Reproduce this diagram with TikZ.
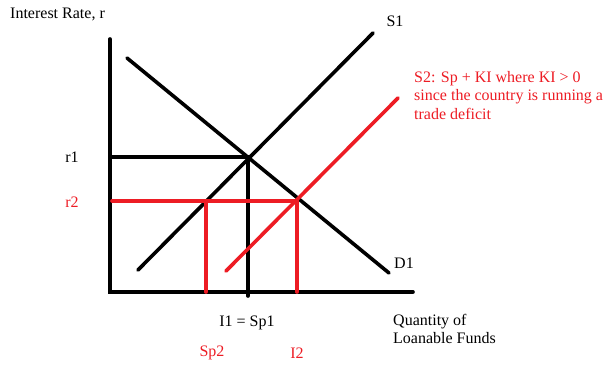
\documentclass[tikz,border=0pt]{standalone}
\usepackage{fontspec}
\setmainfont{Liberation Serif}
\usepackage{xcolor}
\usetikzlibrary{positioning}
\definecolor{paintred}{HTML}{ED1C24}

\begin{document}
\begin{tikzpicture}[
  x=1pt, y=-1pt,
  blk/.style={line width=3.6pt, line cap=round, black},
  rd/.style={line width=3.6pt, line cap=round, paintred},
  lbl/.style={font=\fontsize{16}{18.5}\selectfont, inner sep=0pt},
  rlbl/.style={lbl, text=paintred}
]
  \useasboundingbox (0,0) rectangle (608,366);
  % axes
  \coordinate (O)  at (110,292);
  \coordinate (Yt) at (110,39);
  \coordinate (Xr) at (413,292);
  % curves
  \coordinate (S1a) at (138,270);  \coordinate (S1b) at (373,33);
  \coordinate (D1a) at (127,58);   \coordinate (D1b) at (389,273);
  \coordinate (S2a) at (226,271);  \coordinate (S2b) at (398,98);
  % equilibria
  \coordinate (E1) at (248,157);   \coordinate (E2) at (297,201);
  \coordinate (R1) at (110,157);   \coordinate (R2) at (112,201);
  \coordinate (F2) at (206,201);
  \coordinate (I1b) at (248,296);  \coordinate (Sp2b) at (206,292);
  \coordinate (I2b) at (297,292);

  \draw[blk] (Yt) -- (O) -- (Xr);
  \draw[blk] (D1a) -- (D1b);
  \draw[blk] (S1a) -- (S1b);
  \draw[blk] (R1) -- (E1) -- (I1b);
  \draw[rd] (R2) -- (E2) -- (I2b);
  \draw[rd] (F2) -- (Sp2b);
  \draw[rd] (S2a) -- (S2b);

  % labels
  \node[lbl, anchor=west] (ylab) at (10,14) {Interest Rate, r};
  \node[lbl] (s1lab) at (395,21) {S1};
  \node[lbl] (d1lab) at (404,263) {D1};
  \node[lbl] (r1lab) at (72,157) {r1};
  \node[rlbl] (r2lab) at (72,202) {r2};
  \node[rlbl, anchor=north west, align=left] (s2lab) at (414,71)
    {S2: Sp + KI where KI > 0\\since the country is running a\\trade deficit};
  \node[lbl] (i1lab) at (247,323) {I1 = Sp1};
  \node[rlbl] (sp2lab) at (212,353) {Sp2};
  \node[rlbl] (i2lab) at (297,353) {I2};
  \node[lbl, anchor=north west, align=left] (xlab) at (393,314)
    {Quantity of\\Loanable Funds};
\end{tikzpicture}
\end{document}
